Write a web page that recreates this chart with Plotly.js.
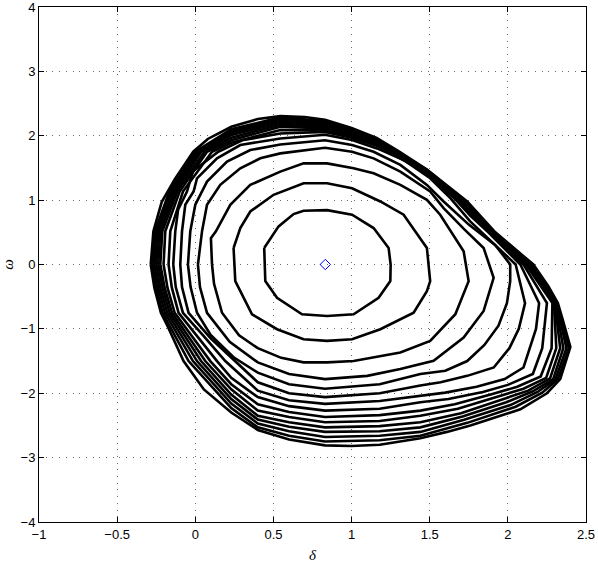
<!DOCTYPE html>
<html>
<head>
<meta charset="utf-8">
<script src="https://cdn.plot.ly/plotly-3.0.1.min.js"></script>
<style>html,body{margin:0;padding:0;background:#fff;}#chart{width:598px;height:568px;}</style>
</head>
<body>
<div id="chart"></div>
<script>
// Level curves (delta, omega), innermost c1 to outermost c15
const c1x = [0.441,0.533,0.629,0.693,0.843,1.003,1.141,1.237,1.250,1.248,1.173,1.013,0.843,0.683,0.523,0.448,0.441];
const c1y = [0.257,0.592,0.783,0.835,0.844,0.773,0.566,0.257,0.0,-0.258,-0.517,-0.773,-0.80,-0.773,-0.517,-0.258,0.257];
const c2x = [0.245,0.288,0.352,0.501,0.693,0.843,1.003,1.184,1.333,1.482,1.503,1.482,1.397,1.184,1.003,0.843,0.693,0.523,0.363,0.256,0.245];
const c2y = [0.257,0.566,0.824,1.083,1.262,1.262,1.185,0.979,0.773,0.257,-0.258,-0.413,-0.749,-1.005,-1.160,-1.186,-1.160,-1.005,-0.773,-0.258,0.257];
const c3x = [0.107,0.10,0.132,0.224,0.352,0.544,0.693,0.843,1.013,1.141,1.312,1.482,1.567,1.717,1.749,1.664,1.503,1.312,1.013,0.843,0.693,0.55,0.40,0.28,0.171,0.12,0.107];
const c3y = [0,0.41,0.515,0.928,1.237,1.443,1.571,1.571,1.494,1.417,1.237,1.005,0.773,0.206,-0.258,-0.773,-1.186,-1.367,-1.50,-1.52,-1.52,-1.45,-1.30,-1.10,-0.75,-0.30,0];
const c4x = [0.017,0.043,0.075,0.160,0.288,0.416,0.544,0.83,1.003,1.141,1.312,1.503,1.589,1.72,1.845,1.909,1.845,1.717,1.525,1.312,1.10,0.83,0.60,0.40,0.22,0.075,0.03,0.017];
const c4y = [0,0.515,0.928,1.237,1.494,1.649,1.726,1.814,1.752,1.649,1.443,1.134,0.875,0.55,0.257,-0.207,-0.722,-1.135,-1.496,-1.624,-1.73,-1.78,-1.70,-1.52,-1.20,-0.75,-0.35,0];
const c5x = [-0.047,-0.032,0.0,0.043,0.075,0.203,0.352,0.544,0.83,1.003,1.141,1.312,1.482,1.589,1.75,1.92,2.015,2.015,1.994,1.94,1.85,1.74,1.60,1.44,1.18,0.83,0.60,0.40,0.25,0.10,0.011,-0.03,-0.047];
const c5y = [0,0.515,0.928,1.134,1.288,1.598,1.778,1.865,1.93,1.856,1.752,1.547,1.237,0.979,0.62,0.30,0.0,-0.258,-0.6,-0.95,-1.25,-1.50,-1.65,-1.70,-1.86,-1.93,-1.86,-1.68,-1.45,-1.10,-0.75,-0.35,0];
const c6x = [-0.096,-0.085,-0.064,-0.011,0.011,0.139,0.288,0.544,0.83,1.003,1.163,1.333,1.503,1.632,1.759,1.90,2.05,2.11,2.07,2.01,1.91,1.74,1.57,1.44,1.18,0.83,0.60,0.40,0.256,0.10,-0.043,-0.085,-0.096];
const c6y = [0,0.515,0.928,1.134,1.339,1.649,1.856,1.958,2.015,1.933,1.803,1.624,1.339,1.030,0.670,0.35,0,-0.6,-1.0,-1.30,-1.60,-1.73,-1.83,-1.88,-2.00,-2.06,-2.00,-1.83,-1.50,-1.15,-0.75,-0.35,0];
const c7x = [-0.141,-0.128,-0.11,-0.053,-0.015,0.147,0.30,0.544,0.83,1.0,1.16,1.33,1.48,1.632,1.759,1.875,2.08,2.20,2.18,2.14,2.10,1.98,1.80,1.60,1.44,1.18,0.83,0.60,0.40,0.192,0.05,-0.079,-0.125,-0.141];
const c7y = [0,0.515,0.85,1.134,1.45,1.752,1.93,2.035,2.06,1.97,1.845,1.675,1.405,1.10,0.76,0.5,0,-0.6,-1.0,-1.30,-1.60,-1.78,-1.90,-1.99,-2.04,-2.12,-2.165,-2.11,-1.96,-1.50,-1.10,-0.75,-0.35,0];
const c8x = [-0.171,-0.160,-0.079,0.107,0.23,0.544,0.83,1.0,1.16,1.48,1.68,1.882,2.10,2.25,2.22,2.16,2.0,1.84,1.62,1.44,1.18,0.83,0.60,0.40,0.23,0.139,-0.107,-0.15,-0.171];
const c8y = [0,0.515,1.134,1.752,1.89,2.088,2.09,1.99,1.86,1.415,0.979,0.5,0,-0.6,-1.3,-1.70,-1.87,-1.98,-2.09,-2.14,-2.24,-2.27,-2.20,-2.06,-1.76,-1.5,-0.75,-0.36,0];
const c9x = [-0.203,-0.192,-0.100,0.075,0.23,0.544,0.83,1.0,1.16,1.48,1.69,1.888,2.115,2.285,2.28,2.21,2.06,1.89,1.66,1.44,1.18,0.83,0.60,0.40,0.23,0.096,-0.132,-0.178,-0.203];
const c9y = [0,0.515,1.134,1.752,1.93,2.139,2.115,2.01,1.875,1.425,0.979,0.5,0,-0.6,-1.3,-1.74,-1.90,-2.02,-2.17,-2.27,-2.34,-2.37,-2.29,-2.17,-1.86,-1.5,-0.75,-0.36,0];
const c10x = [-0.224,-0.211,-0.115,0.058,0.23,0.544,0.83,1.0,1.16,1.48,1.70,1.894,2.125,2.295,2.31,2.245,2.10,1.93,1.68,1.44,1.18,0.83,0.60,0.40,0.23,0.064,-0.149,-0.196,-0.224];
const c10y = [0,0.515,1.134,1.752,1.97,2.170,2.14,2.03,1.89,1.435,0.979,0.5,0,-0.6,-1.3,-1.76,-1.93,-2.06,-2.24,-2.35,-2.43,-2.45,-2.37,-2.27,-1.94,-1.5,-0.75,-0.36,0];
const c11x = [-0.237,-0.224,-0.128,0.038,0.23,0.544,0.83,1.0,1.16,1.48,1.71,1.90,2.135,2.30,2.335,2.27,2.13,1.96,1.70,1.44,1.18,0.83,0.60,0.40,0.23,0.037,-0.164,-0.21,-0.237];
const c11y = [0,0.515,1.134,1.752,2.01,2.201,2.165,2.05,1.905,1.445,0.979,0.5,0,-0.6,-1.3,-1.77,-1.96,-2.10,-2.31,-2.45,-2.51,-2.53,-2.45,-2.35,-2.02,-1.5,-0.75,-0.36,0];
const c12x = [-0.250,-0.237,-0.141,0.026,0.23,0.544,0.83,1.0,1.16,1.48,1.718,1.905,2.143,2.305,2.355,2.29,2.16,1.99,1.71,1.44,1.18,0.83,0.60,0.40,0.23,0.011,-0.179,-0.224,-0.250];
const c12y = [0,0.515,1.134,1.752,2.04,2.232,2.19,2.07,1.92,1.455,0.979,0.5,0,-0.6,-1.3,-1.78,-1.97,-2.14,-2.36,-2.53,-2.59,-2.60,-2.52,-2.41,-2.09,-1.5,-0.75,-0.36,0];
const c13x = [-0.262,-0.249,-0.154,0.013,0.23,0.544,0.83,1.0,1.16,1.48,1.725,1.91,2.15,2.31,2.375,2.305,2.19,2.02,1.72,1.44,1.18,0.83,0.60,0.40,0.23,-0.015,-0.194,-0.237,-0.262];
const c13y = [0,0.515,1.134,1.752,2.07,2.263,2.21,2.09,1.935,1.465,0.979,0.5,0,-0.6,-1.3,-1.78,-1.98,-2.18,-2.41,-2.60,-2.66,-2.68,-2.59,-2.47,-2.16,-1.5,-0.75,-0.36,0];
const c14x = [-0.274,-0.258,-0.166,0.0,0.23,0.544,0.83,1.0,1.16,1.48,1.732,1.915,2.157,2.315,2.39,2.32,2.22,2.05,1.74,1.44,1.18,0.83,0.60,0.40,0.23,-0.043,-0.209,-0.25,-0.274];
const c14y = [0,0.515,1.134,1.752,2.10,2.286,2.23,2.105,1.95,1.473,0.979,0.5,0,-0.6,-1.3,-1.78,-1.99,-2.21,-2.46,-2.66,-2.73,-2.75,-2.66,-2.53,-2.23,-1.5,-0.75,-0.36,0];
const c15x = [-0.285,-0.268,-0.215,-0.13,-0.013,0.08,0.23,0.40,0.544,0.70,0.83,1.0,1.16,1.30,1.48,1.59,1.74,1.92,2.163,2.26,2.32,2.35,2.40,2.335,2.25,2.08,1.91,1.76,1.61,1.44,1.18,1.00,0.83,0.69,0.60,0.40,0.23,0.055,-0.075,-0.175,-0.22,-0.262,-0.285];
const c15y = [0,0.515,0.97,1.33,1.752,1.95,2.14,2.26,2.305,2.29,2.25,2.12,1.965,1.76,1.48,1.27,0.979,0.5,0,-0.34,-0.6,-0.85,-1.28,-1.78,-2.00,-2.25,-2.38,-2.50,-2.60,-2.70,-2.80,-2.82,-2.81,-2.76,-2.72,-2.57,-2.30,-1.94,-1.50,-0.97,-0.75,-0.36,0];
// Equilibrium point
const eqX = [0.832];
const eqY = [0];
// Tick values
const xTicks = [-1, -0.5, 0, 0.5, 1, 1.5, 2, 2.5];
const yTicks = [-4, -3, -2, -1, 0, 1, 2, 3, 4];

const curvesX = [c1x,c2x,c3x,c4x,c5x,c6x,c7x,c8x,c9x,c10x,c11x,c12x,c13x,c14x,c15x];
const curvesY = [c1y,c2y,c3y,c4y,c5y,c6y,c7y,c8y,c9y,c10y,c11y,c12y,c13y,c14y,c15y];

const traces = curvesX.map((cx, i) => ({
  x: cx, y: curvesY[i], type: 'scatter', mode: 'lines',
  line: {color: '#000000', width: 2.6}, hoverinfo: 'skip', showlegend: false
}));
traces.push({
  x: eqX, y: eqY, type: 'scatter', mode: 'markers',
  marker: {symbol: 'diamond-open', size: 8, color: '#0000ff', line: {width: 1, color: '#0000ff'}},
  hoverinfo: 'skip', showlegend: false
});

const tickFont = {family: 'Liberation Sans, Arial, sans-serif', size: 13, color: '#000'};
const axisCommon = {
  showline: true, linecolor: '#000', linewidth: 1, mirror: 'ticks',
  ticks: 'inside', ticklen: 5, tickwidth: 1, tickcolor: '#000',
  showgrid: true, gridcolor: '#6a6a6a', gridwidth: 1, griddash: '1px,5.7px',
  zeroline: false, tickfont: tickFont, automargin: false, tickmode: 'array',
  ticklabeloverflow: 'allow'
};

const layout = {
  width: 598, height: 568,
  margin: {l: 39, r: 12, t: 7, b: 46},
  paper_bgcolor: '#fff', plot_bgcolor: '#fff',
  showlegend: false,
  xaxis: Object.assign({}, axisCommon, {
    range: [-1, 2.5], tickvals: xTicks,
    title: {text: '<i>δ</i>', font: {family: 'Liberation Serif, Times New Roman, serif', size: 15, color: '#000'}, standoff: 8}
  }),
  yaxis: Object.assign({}, axisCommon, {
    range: [-4, 4], tickvals: yTicks,
    title: {text: '<i>ω</i>', font: {family: 'Liberation Serif, Times New Roman, serif', size: 15, color: '#000'}, standoff: 8}
  })
};

Plotly.newPlot('chart', traces, layout, {displayModeBar: false, staticPlot: true});
</script>
</body>
</html>
